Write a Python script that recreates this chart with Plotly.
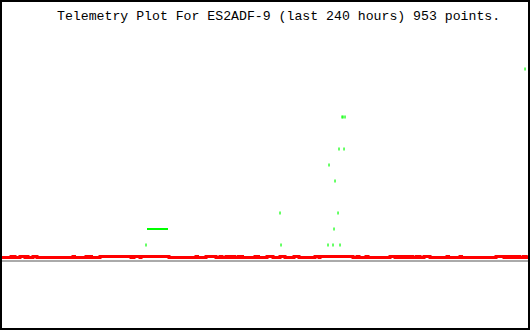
import plotly.graph_objects as go

TITLE = "Telemetry Plot For ES2ADF-9 (last 240 hours) 953 points."

# Hours since start of 240 h window
red_t = [0, 4.11, 4.79, 5.25, 5.93, 8.21, 10.49, 10.95, 11.86, 14.15, 15.97, 32.40, 33.08,
         38.33, 39.01, 40.15, 40.84, 44.72, 58.86, 60.23, 62.97, 63.43, 76.20, 88.52, 89.21,
         93.09, 97.65, 99.47, 100.38, 102.21, 103.12, 104.49, 105.17, 105.40, 106.09, 107.69,
         108.83, 109.06, 109.74, 115.44, 116.13, 116.36, 117.04, 120.92, 123.66, 126.85,
         129.13, 133.24, 135.52, 142.82, 144.65, 145.10, 160.16, 161.99, 162.90, 166.09,
         167.01, 177.04, 179.33, 179.78, 180.47, 181.61, 182.29, 183.43, 184.12, 185.26,
         185.94, 186.63, 187.31, 188.91, 189.59, 190.05, 190.74, 192.56, 195.30, 203.05,
         203.74, 208.99, 209.67, 225.41, 229.06, 229.97, 230.66, 231.80, 232.48, 233.75,
         234.44, 235.57, 236.25, 237.85, 239.22, 240]
LO, HI = 0.21875, 0.28125
red_v = [LO, HI, LO, HI, LO, HI, LO, HI, LO, HI, LO, HI, LO,
         HI, LO, HI, LO, HI, LO, HI, LO, HI, LO, HI, LO,
         HI, LO, HI, LO, HI, LO, HI, LO, HI, LO, HI,
         LO, HI, LO, HI, LO, HI, LO, HI, LO, HI,
         LO, HI, LO, HI, LO, HI, LO, HI, LO, HI,
         LO, HI, LO, HI, LO, HI, LO, HI, LO, HI,
         LO, HI, LO, HI, LO, HI, LO, HI, LO, HI,
         LO, HI, LO, HI, LO, HI, LO, HI, LO, HI,
         LO, HI, LO, HI, LO, LO]

green_t = [65.71, 126.85, 127.31, 148.75, 149.21, 151.03, 151.49, 151.95, 153.32, 153.77,
           154.23, 155.14, 155.60, 156.06, 156.51, 238.65]
green_v = [1, 3, 1, 1, 6, 1, 2, 5, 3, 7, 1, 9, 9, 7, 9, 12]

green_run_t = [66.16, 75.75]
green_run_v = [2, 2]

fig = go.Figure()
fig.add_trace(go.Scatter(x=red_t, y=red_v, mode="lines", line=dict(color="#ff0000", width=3, shape="hv"),
                         hoverinfo="skip"))
fig.add_trace(go.Scatter(x=green_run_t, y=green_run_v, mode="lines",
                         line=dict(color="#00ff00", width=2), hoverinfo="skip"))
fig.add_trace(go.Scatter(x=green_t, y=green_v, mode="markers",
                         marker=dict(symbol="line-ns", size=2, color="#00ff00",
                                     line=dict(color="#00ff00", width=1.2)),
                         hoverinfo="skip"))

fig.update_layout(
    width=530, height=330,
    margin=dict(l=2, r=2, t=2, b=2),
    paper_bgcolor="#000000", plot_bgcolor="#ffffff",
    showlegend=False,
    xaxis=dict(range=[0, 240], visible=True, showgrid=False, zeroline=False,
               showticklabels=False, ticks=""),
    yaxis=dict(range=[-4.1875, 16.1875], showgrid=False, zeroline=True, zerolinecolor="#aaaaaa",
               zerolinewidth=2, showticklabels=False, ticks=""),
    annotations=[dict(text=TITLE, xref="paper", yref="paper", x=0.1008, y=0.9847,
                      xanchor="left", yanchor="top", showarrow=False,
                      font=dict(family="Liberation Mono", size=13.2, color="#000000"))],
)
fig.write_html("out.html", config={"displayModeBar": False, "staticPlot": True})
